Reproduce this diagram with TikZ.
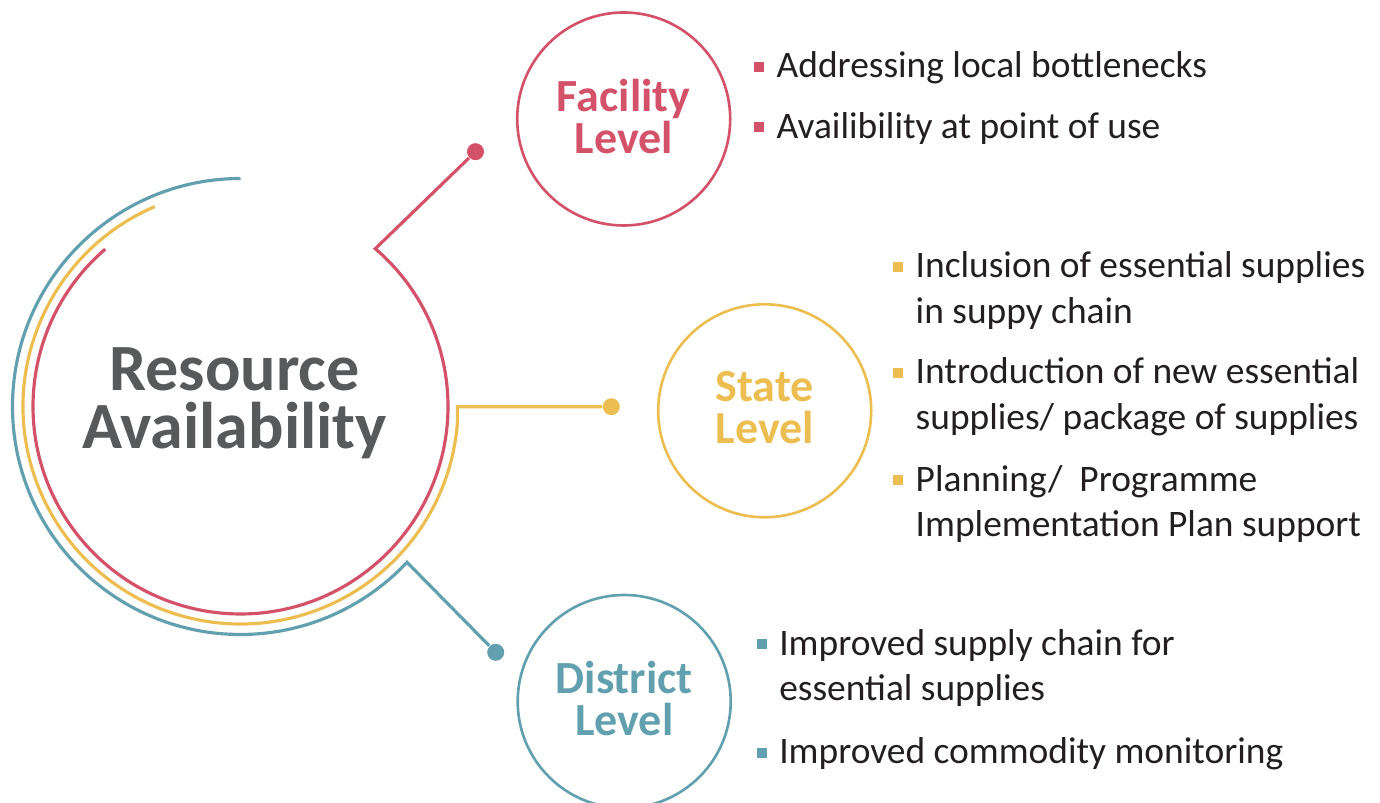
\documentclass[tikz,border=0pt]{standalone}
\usepackage{fontspec}
\setmainfont{Carlito}
\usepackage{tikz}
\usetikzlibrary{positioning}
\definecolor{levelred}{HTML}{D35269}
\definecolor{levelgold}{HTML}{ECBE52}
\definecolor{levelteal}{HTML}{62A0B0}
\definecolor{titlegrey}{HTML}{58595B}
\definecolor{itemtext}{HTML}{231F20}

\begin{document}
\begin{tikzpicture}[
  x=1cm, y=1cm,
  title/.style={align=center, inner sep=0pt, text=titlegrey, font=\bfseries\fontsize{18.8}{16.6}\selectfont},
  level/.style={circle, draw, line width=0.75pt, minimum size=2.13cm, inner sep=0pt, text depth=0.06cm, align=center, font=\bfseries\fontsize{13.1}{11.9}\selectfont},
  item/.style={anchor=base west, align=left, inner sep=0pt, text=itemtext, font=\fontsize{10.65}{13}\selectfont},
  bullet/.style={rectangle, minimum size=0.1cm, inner sep=0pt},
  dot/.style={circle, minimum size=0.17cm, inner sep=0pt},
  ring/.style={line width=0.9pt}
]
\useasboundingbox (0,0) rectangle (13.8,8.03);

% Centre of the rings
\coordinate (c) at (2.405,3.965);
\node[title, anchor=base] (res) at (2.345,3.54) {Resource\\Availability};

% Level circles
\node[level, draw=levelred, text=levelred] (facility) at (6.237,6.84) {Facility\\Level};
\node[level, draw=levelgold, text=levelgold] (state) at (7.647,3.922) {State\\Level};
\node[level, draw=levelteal, text=levelteal] (district) at (6.242,1.015) {District\\Level};

% Connector dots
\node[dot, fill=levelred] (fdot) at (4.755,6.513) {};
\node[dot, fill=levelgold] (sdot) at (6.113,3.963) {};
\node[dot, fill=levelteal] (ddot) at (4.957,1.507) {};

% Rings running out to the dots
\draw[ring, levelteal] (c) ++(90:2.28) arc[start angle=90, end angle=316.9, radius=2.28] -- (ddot);
\draw[ring, levelgold] (c) ++(113.2:2.175) arc[start angle=113.2, end angle=356, radius=2.175] |- (sdot);
\draw[ring, levelred] (c) ++(130.7:2.075) arc[start angle=130.7, end angle=409.5, radius=2.075] -- (fdot);

% Facility items (placed on their last baseline)
\node[item] (f1) at (7.76,7.25) {Addressing local bottlenecks};
\node[item] (f2) at (7.76,6.645) {Availibility at point of use};

% State items
\node[item] (s1) at (9.15,4.793) {Inclusion of essential supplies\\in suppy chain};
\node[item] (s2) at (9.15,3.733) {Introduction of new essential\\supplies/ package of supplies};
\node[item] (s3) at (9.15,2.66) {Planning/\ \ Programme\\Implementation Plan support};

% District items
\node[item] (d1) at (7.786,1.02) {Improved supply chain for\\essential supplies};
\node[item] (d2) at (7.786,0.39) {Improved commodity monitoring};

% Square bullets, lifted to the first line
\foreach \n/\dy in {f1/0.11, f2/0.11}
  \node[bullet, fill=levelred] at ([shift={(-0.17,\dy)}]\n.base west) {};
\foreach \n/\dy in {s1/0.567, s2/0.567, s3/0.567}
  \node[bullet, fill=levelgold] at ([shift={(-0.17,\dy)}]\n.base west) {};
\foreach \n/\dy in {d1/0.57, d2/0.11}
  \node[bullet, fill=levelteal] at ([shift={(-0.17,\dy)}]\n.base west) {};

\end{tikzpicture}
\end{document}
